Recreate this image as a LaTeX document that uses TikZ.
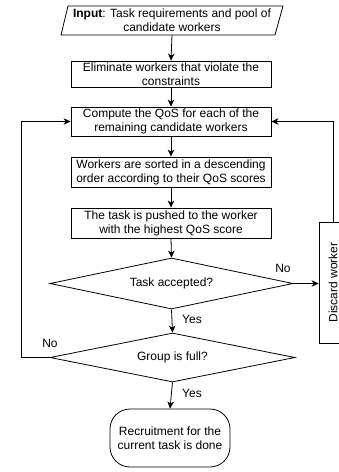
\documentclass[tikz,border=0pt]{standalone}
\usepackage{fontspec}
\setmainfont{Liberation Sans}
\usetikzlibrary{shapes.geometric,arrows.meta}
\begin{document}
\begin{tikzpicture}[x=1pt,y=-1pt,
  every node/.style={font=\fontsize{12}{14}\selectfont, align=center, inner sep=0pt},
  ln/.style={line width=0.8pt},
  arr/.style={ln, -{Stealth[length=7pt,width=6.5pt,inset=2pt]}},
  proc/.style={draw, ln, rectangle, minimum width=200pt, minimum height=29pt},
  dec/.style={draw, ln, diamond},
  term/.style={draw, ln, rectangle, rounded corners=20pt, minimum width=120pt, minimum height=58pt},
  lbl/.style={font=\fontsize{12}{14}\selectfont}
]
\useasboundingbox (0,0) rectangle (339,472);
% input parallelogram
\draw[ln] (68,6) -- (283,6) -- (275,35) -- (61,35) -- cycle;
\node[minimum width=214pt, minimum height=29pt] (inp) at (172,20.5) {\textbf{Input}: Task requirements and pool of\\candidate workers};
\node[proc, minimum height=26pt] (b2) at (171,74) {Eliminate workers that violate the\\constraints};
\node[proc] (b3) at (171,121.5) {Compute the QoS for each of the\\remaining candidate workers};
\node[proc, minimum height=30pt] (b4) at (171,172) {Workers are sorted in a descending\\order according to their QoS scores};
\node[proc, minimum height=30pt] (b5) at (171,223) {The task is pushed to the worker\\with the highest QoS score};
\node[dec, aspect=4.76, minimum width=243pt, minimum height=51pt] (d1) at (171.5,283.5) {Task accepted?};
\node[dec, aspect=5, minimum width=245pt, minimum height=49pt] (d2) at (172.5,357.5) {Group is full?};
\node[term] (t) at (170,438) {Recruitment for the\\current task is done};
\node[draw, ln, rotate=90, minimum width=121pt, minimum height=28pt] (disc) at (333,282.5) {Discard worker};
\coordinate (lft) at (21,357.5);
% connectors
\draw[arr] (inp.south) -- (b2.north);
\draw[arr] (b2.south) -- (b3.north);
\draw[arr] (b3.south) -- (b4.north);
\draw[arr] (b4.south) -- (b5.north);
\draw[arr] (b5.south) -- (d1.north);
\draw[arr] (d1.south) -- (d2.north);
\draw[arr] (d2.south) -- (t.north);
\draw[arr] (d1.east) -- (d1.east -| disc.north);
\draw[arr] (disc.east) -- (disc.east |- b3.east) -- (b3.east);
\draw[arr] (d2.west) -- (lft) |- (b3.west);
% labels
\node[lbl] (l1) at (283,268) {No};
\node[lbl] (l2) at (192,319) {Yes};
\node[lbl] (l3) at (50,343) {No};
\node[lbl] (l4) at (192,393) {Yes};
\end{tikzpicture}
\end{document}
